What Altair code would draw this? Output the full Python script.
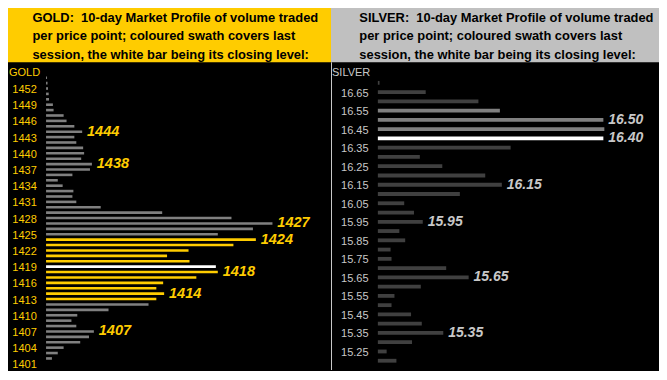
import altair as alt
import pandas as pd

# ---------------- data ----------------
gold_prices = [1454, 1453, 1452, 1451, 1450, 1449, 1448, 1447, 1446, 1445,
               1444, 1443, 1442, 1441, 1440, 1439, 1438, 1437, 1436, 1435,
               1434, 1433, 1432, 1431, 1430, 1429, 1428, 1427, 1426, 1425,
               1424, 1423, 1422, 1421, 1420, 1419, 1418, 1417, 1416, 1415,
               1414, 1413, 1412, 1411, 1410, 1409, 1408, 1407, 1406, 1405,
               1404, 1403, 1402, 1401]
gold_volume = [1, 1.5, 2, 2.7, 3, 7, 7.7, 18, 21, 29,
               37, 29, 31, 38, 39, 36, 47, 45, 27, 12,
               17, 28, 27, 31, 56, 119, 190, 232, 212, 176,
               215, 192, 146, 124, 147, 174, 176, 154, 120, 113,
               121, 113, 105, 64, 32, 26, 31, 49, 44, 35,
               18, 12, 6, 0]
gold_session_low, gold_session_high, gold_close = 1413, 1424, 1419
gold_marked = [1444, 1438, 1427, 1424, 1418, 1414, 1407]
gold_ticks = [1401, 1404, 1407, 1410, 1413, 1416, 1419, 1422, 1425, 1428,
              1431, 1434, 1437, 1440, 1443, 1446, 1449, 1452]

silver_prices = [16.70, 16.65, 16.60, 16.55, 16.50, 16.45, 16.40, 16.35, 16.30, 16.25,
                 16.20, 16.15, 16.10, 16.05, 16.00, 15.95, 15.90, 15.85, 15.80, 15.75,
                 15.70, 15.65, 15.60, 15.55, 15.50, 15.45, 15.40, 15.35, 15.30, 15.25,
                 15.20]
silver_volume = [1.7, 49, 103, 125, 231, 232, 231, 136, 43, 66,
                 110, 127, 84, 27, 37, 46, 22, 28, 13, 14,
                 70, 93, 44, 17, 14, 34, 45, 67, 35, 9,
                 19]
silver_session_low, silver_session_high, silver_close = 16.40, 16.55, 16.40
silver_marked = [16.50, 16.40, 16.15, 15.95, 15.65, 15.35]
silver_ticks = [15.25, 15.35, 15.45, 15.55, 15.65, 15.75, 15.85, 15.95, 16.05,
                16.15, 16.25, 16.35, 16.45, 16.55, 16.65]

gold_title = ["GOLD:\u00a0 10-day Market Profile of volume traded",
              "per price point; coloured swath covers last",
              "session, the white bar being its closing level:"]
silver_title = ["SILVER:\u00a0 10-day Market Profile of volume traded",
                "per price point; coloured swath covers last",
                "session, the white bar being its closing level:"]

# ---------------- layout ----------------
SX = 651 / 667
SY = 362 / 380
H = 362
WG = 323
WS = 651 - WG
FONT = "Liberation Sans"
TITLE_Y = [10, 29.5, 49]


def session_of(p, lo, hi, close):
    if abs(p - close) < 1e-9:
        return "close"
    if lo - 1e-9 <= p <= hi + 1e-9:
        return "last"
    return "prior"


def build_panel(prices, volume, lo, hi, close, marked, ticks, W, xdom, ydom,
                colors, label_color, note_color, box_color, title_lines,
                header, label_right, title_x, bar_size, fmt, note_size):
    df = pd.DataFrame({
        "price": prices,
        "vol": volume,
        "zero": [0] * len(prices),
        "session": [session_of(p, lo, hi, close) for p in prices],
    })
    df["note"] = [(f"{p:.2f}" if fmt == ".2f" else f"{p:d}") for p in prices]
    df["marked"] = [any(abs(p - m) < 1e-9 for m in marked) for p in prices]

    xs = alt.Scale(domain=xdom, nice=False, zero=False)
    ys = alt.Scale(domain=ydom, nice=False, zero=False)
    yaxis = alt.Axis(
        values=ticks, orient="left", offset=-label_right * SX,
        ticks=False, domain=False, grid=False, labelPadding=0,
        labelFont=FONT, labelFontSize=11, labelColor=label_color,
        labelBaseline="middle", labelAlign="right", labelOffset=1,
        labelOverlap=False, labelFlush=False, format=fmt, title=None)

    base = alt.Chart(df)
    bars = base.mark_rule(strokeWidth=bar_size, strokeCap="butt").encode(
        x=alt.X("zero:Q", scale=xs, axis=None),
        x2="vol:Q",
        y=alt.Y("price:Q", scale=ys, axis=yaxis),
        color=alt.Color("session:N", scale=alt.Scale(
            domain=["prior", "last", "close"], range=colors), legend=None),
    )
    notes = base.transform_filter("datum.marked").mark_text(
        align="left", baseline="middle", dx=5 * SX, font=FONT,
        fontSize=note_size, fontWeight="bold", fontStyle="italic",
        color=note_color).encode(
        x=alt.X("vol:Q", scale=xs, axis=None),
        y=alt.Y("price:Q", scale=ys, axis=yaxis),
        text="note:N",
    )
    box = alt.Chart(pd.DataFrame({"k": [0]})).mark_rect(color=box_color).encode(
        x=alt.value(0), x2=alt.value(W), y=alt.value(0), y2=alt.value(57 * SY))
    layers = [box]
    for line, ty in zip(title_lines, TITLE_Y):
        layers.append(alt.Chart(pd.DataFrame({"line": [line]})).mark_text(
            align="left", baseline="middle", font=FONT, fontSize=12.9,
            fontWeight="bold", color="black").encode(
            x=alt.value(title_x * SX), y=alt.value(ty * SY), text="line:N"))
    head = alt.Chart(pd.DataFrame({"h": [header]})).mark_text(
        align="left", baseline="middle", font=FONT, fontSize=11,
        color=label_color).encode(
        x=alt.value(1), y=alt.value(68 * SY), text="h:N")
    layers += [head, bars, notes]
    return layers


gold_layers = build_panel(
    gold_prices, gold_volume, gold_session_low, gold_session_high, gold_close,
    gold_marked, gold_ticks, WG, [-39, 292], [1399.86, 1466.91],
    ["#808080", "#FFCC00", "#FFFFFF"], "#FFCC00", "#FFCC00", "#FFCC00",
    gold_title, "GOLD", 29, 25, 2.6, "d", 14.5)

silver_layers = build_panel(
    silver_prices, silver_volume, silver_session_low, silver_session_high,
    silver_close, silver_marked, silver_ticks, WS, [-48, 288], [15.150, 17.104],
    ["#404040", "#808080", "#FFFFFF"], "#C8C8C8", "#C8C8C8", "#C0C0C0",
    silver_title, "SILVER", 38, 29, 3.8, ".2f", 14)

divider = alt.Chart(pd.DataFrame({"d": [0]})).mark_rule(
    color="#C8C8C8", strokeWidth=1).encode(
    x=alt.value(0.5), y=alt.value(57 * SY), y2=alt.value(H))

gold = alt.layer(*gold_layers).properties(width=WG, height=H)
silver = alt.layer(*silver_layers, divider).properties(width=WS, height=H)

chart = alt.hconcat(gold, silver, spacing=0).resolve_scale(
    color="independent", x="independent", y="independent"
).configure(
    background="black", padding=0
).configure_view(strokeWidth=0, fill="black")

chart.save("out.html", embed_options={"renderer": "svg", "actions": False})
